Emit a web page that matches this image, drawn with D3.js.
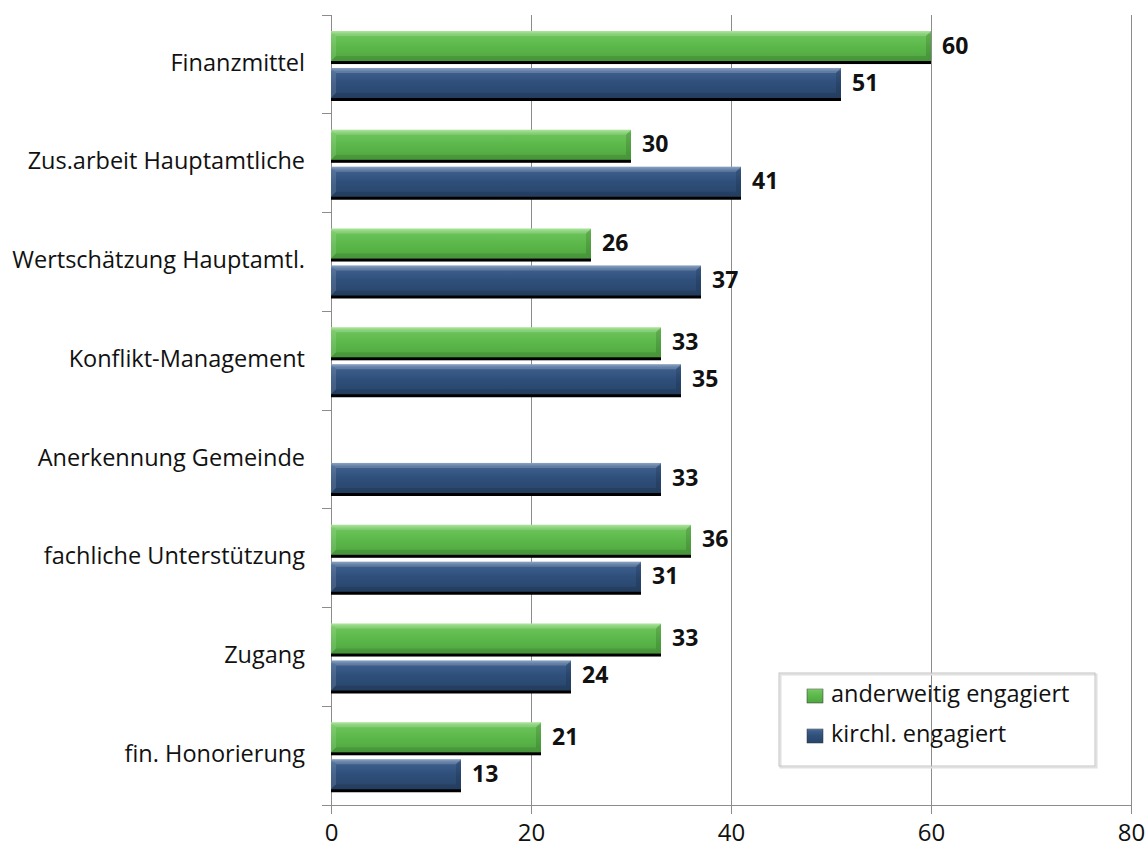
<!DOCTYPE html>
<html>
<head>
<meta charset="utf-8">
<script src="https://cdn.jsdelivr.net/npm/d3@7"></script>
<style>
  body { margin: 0; background: #fff; }
  text { font-family: "Open Sans", Lato, sans-serif; }
</style>
</head>
<body>
<script>
// data
const categories = ["Finanzmittel", "Zus.arbeit Hauptamtliche", "Wertschätzung Hauptamtl.",
  "Konflikt-Management", "Anerkennung Gemeinde", "fachliche Unterstützung", "Zugang", "fin. Honorierung"];
const seriesNames = ["anderweitig engagiert", "kirchl. engagiert"];
const anderweitig = [60, 30, 26, 33, null, 36, 33, 21];
const kirchl = [51, 41, 37, 35, 33, 31, 24, 13];
const xTicks = [0, 20, 40, 60, 80];

const width = 1147, height = 850;
const margin = {top: 15, right: 16, bottom: 45, left: 331};

const svg = d3.select("body").append("svg")
  .attr("width", width).attr("height", height);

const defs = svg.append("defs");
const colors = {
  "anderweitig engagiert": {id: "gGreen", stops: ["#9be086", "#6cc45a", "#5cb84b", "#4fa63f"]},
  "kirchl. engagiert": {id: "gBlue", stops: ["#6f8fb8", "#3e5f8c", "#2f4f7b", "#284569"]}
};
Object.values(colors).forEach(c => {
  const g = defs.append("linearGradient").attr("id", c.id)
    .attr("x1", 0).attr("y1", 0).attr("x2", 0).attr("y2", 1);
  [0, 0.12, 0.5, 1].forEach((o, i) =>
    g.append("stop").attr("offset", o).attr("stop-color", c.stops[i]));
});

const x = d3.scaleLinear().domain([0, 80]).range([margin.left, width - margin.right]);
const y = d3.scaleBand().domain(categories).range([margin.top, height - margin.bottom]);
const ys = d3.scaleBand().domain(seriesNames).range([16, 84]).paddingInner(0.16);

// grid
svg.append("g").selectAll("line")
  .data(xTicks.filter(d => d > 0))
  .join("line")
  .attr("x1", d => x(d)).attr("x2", d => x(d))
  .attr("y1", margin.top).attr("y2", height - margin.bottom)
  .attr("stroke", "#8c8c8c").attr("stroke-width", 1).attr("shape-rendering", "crispEdges");

// bottom axis
const xAxis = svg.append("g")
  .attr("transform", `translate(0,${height - margin.bottom})`)
  .call(d3.axisBottom(x).tickValues(xTicks).tickSize(9).tickPadding(10).tickSizeOuter(0));
xAxis.select(".domain").attr("stroke", "#8c8c8c").attr("shape-rendering", "crispEdges");
xAxis.selectAll(".tick line").attr("stroke", "#8c8c8c").attr("shape-rendering", "crispEdges");
xAxis.selectAll(".tick text").attr("font-size", 24).attr("fill", "#111")
  .attr("font-family", "'Open Sans', sans-serif");

// left axis
const yAxisG = svg.append("g").attr("transform", `translate(${margin.left},0)`);
yAxisG.append("line").attr("y1", margin.top).attr("y2", height - margin.bottom)
  .attr("stroke", "#8c8c8c").attr("shape-rendering", "crispEdges");
const bounds = categories.map(c => y(c)).concat([height - margin.bottom]);
yAxisG.selectAll(".tk").data(bounds).join("line").attr("class", "tk")
  .attr("x1", -9).attr("x2", 0).attr("y1", d => d).attr("y2", d => d)
  .attr("stroke", "#8c8c8c").attr("shape-rendering", "crispEdges");
yAxisG.selectAll(".lbl").data(categories).join("text").attr("class", "lbl")
  .attr("x", -26).attr("y", d => y(d) + y.bandwidth() / 2)
  .attr("text-anchor", "end").attr("dominant-baseline", "middle")
  .attr("font-size", 23.5).attr("fill", "#111").text(d => d);

// bars
const rows = [];
categories.forEach((c, i) => {
  rows.push({cat: c, s: seriesNames[0], v: anderweitig[i]});
  rows.push({cat: c, s: seriesNames[1], v: kirchl[i]});
});
const barData = rows.filter(d => d.v != null);
const bh = ys.bandwidth();

const bars = svg.append("g").selectAll("g").data(barData).join("g")
  .attr("transform", d => `translate(0,${y(d.cat) + ys(d.s)})`);
// shadow
bars.append("rect")
  .attr("x", x(0)).attr("y", 2)
  .attr("width", d => x(d.v) - x(0)).attr("height", bh)
  .attr("fill", "#000");
bars.append("rect")
  .attr("x", x(0)).attr("y", 0)
  .attr("width", d => x(d.v) - x(0)).attr("height", bh - 1)
  .attr("fill", d => `url(#${colors[d.s].id})`);
// bevel edges
bars.append("path")
  .attr("d", d => {
    const x0 = x(0), x1 = x(d.v), b = 5;
    return `M${x0},0 L${x1},0 L${x1 - b},${b} L${x0 + b},${b} Z`;
  })
  .attr("fill", "#fff").attr("opacity", 0.18);
bars.append("path")
  .attr("d", d => {
    const x0 = x(0), b = 5;
    return `M${x0},0 L${x0 + b},${b} L${x0 + b},${bh - 1 - b} L${x0},${bh - 1} Z`;
  })
  .attr("fill", "#fff").attr("opacity", 0.12);
bars.append("path")
  .attr("d", d => {
    const x0 = x(0), x1 = x(d.v), b = 5;
    return `M${x0},${bh - 1} L${x0 + b},${bh - 1 - b} L${x1 - b},${bh - 1 - b} L${x1},${bh - 1} Z`;
  })
  .attr("fill", "#000").attr("opacity", 0.1);
bars.append("path")
  .attr("d", d => {
    const x1 = x(d.v), b = 5;
    return `M${x1},0 L${x1},${bh - 1} L${x1 - b},${bh - 1 - b} L${x1 - b},${b} Z`;
  })
  .attr("fill", "#000").attr("opacity", 0.12);
// value labels
bars.append("text")
  .attr("x", d => x(d.v) + 11).attr("y", bh / 2 + 1)
  .attr("dominant-baseline", "middle")
  .attr("font-size", 23).attr("font-weight", "bold").attr("fill", "#111")
  .text(d => d.v);

// legend
const lg = svg.append("g").attr("transform", "translate(779,673)");
lg.append("rect").attr("x", 1.5).attr("y", 1.5).attr("width", 316).attr("height", 93)
  .attr("fill", "none").attr("stroke", "#e0e0e0").attr("stroke-width", 2);
lg.append("rect").attr("width", 316).attr("height", 93)
  .attr("fill", "none").attr("stroke", "#c4c4c4").attr("stroke-width", 1);
seriesNames.forEach((s, i) => {
  const gy = 16 + i * 40;
  lg.append("rect").attr("x", 28).attr("y", gy).attr("width", 16).attr("height", 14)
    .attr("fill", `url(#${colors[s].id})`).attr("stroke", "#333").attr("stroke-width", 0.5);
  lg.append("text").attr("x", 52).attr("y", gy + 7)
    .attr("dominant-baseline", "middle")
    .attr("font-size", 23.5).attr("fill", "#111").text(s);
});
</script>
</body>
</html>
